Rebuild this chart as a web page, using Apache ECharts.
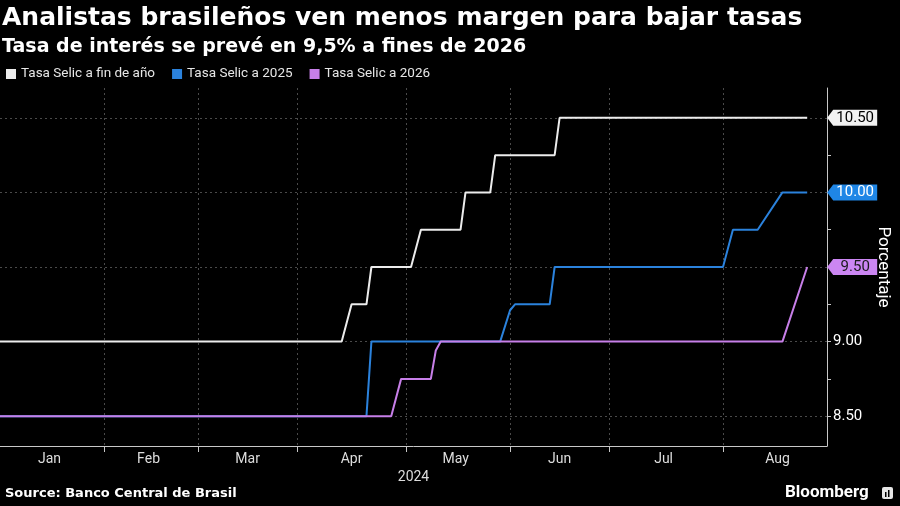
<!DOCTYPE html>
<html>
<head>
<meta charset="utf-8">
<script src="https://cdn.jsdelivr.net/npm/echarts@6/dist/echarts.min.js"></script>
<style>
  html, body { margin: 0; padding: 0; background: #000; }
  #main { width: 900px; height: 506px; }
</style>
</head>
<body>
<div id="main"></div>
<script>
// month names shown on the x axis
var months = ["Jan", "Feb", "Mar", "Apr", "May", "Jun", "Jul", "Aug"];
// brazilian market holidays (no survey values on those days)
var holidays = ["2024-01-01", "2024-02-12", "2024-02-13", "2024-03-29", "2024-05-01", "2024-05-30"];
var firstDay = "2024-01-03";
var lastDay = "2024-08-30";

// Selic end-of-year expectation, [fecha, %] at each change
var selicFinDeAno = [
  ["2024-01-03", 9.0], ["2024-04-12", 9.0], ["2024-04-16", 9.25], ["2024-04-19", 9.25],
  ["2024-04-22", 9.5], ["2024-05-03", 9.5], ["2024-05-07", 9.75], ["2024-05-17", 9.75],
  ["2024-05-20", 10.0], ["2024-05-27", 10.0], ["2024-05-28", 10.25], ["2024-06-14", 10.25],
  ["2024-06-17", 10.5], ["2024-08-26", 10.5]
];
var selic2025 = [
  ["2024-01-03", 8.5], ["2024-04-19", 8.5], ["2024-04-22", 9.0], ["2024-05-29", 9.0],
  ["2024-06-03", 9.21], ["2024-06-04", 9.25], ["2024-06-13", 9.25], ["2024-06-14", 9.5],
  ["2024-08-01", 9.5], ["2024-08-05", 9.75], ["2024-08-12", 9.75], ["2024-08-19", 10.0],
  ["2024-08-26", 10.0]
];
var selic2026 = [
  ["2024-01-03", 8.5], ["2024-04-26", 8.5], ["2024-04-30", 8.75], ["2024-05-09", 8.75],
  ["2024-05-10", 8.94], ["2024-05-13", 9.0], ["2024-08-19", 9.0], ["2024-08-26", 9.5]
];

var gridValues = [8.5, 9.0, 9.5, 10.0, 10.5];
var tickValues = [8.5, 8.75, 9.0, 9.25, 9.5, 9.75, 10.0, 10.25, 10.5];
var plainLabels = [8.5, 9.0];

function businessDays(from, to, skip) {
  var out = [];
  var d = new Date(from + "T00:00:00Z");
  var end = new Date(to + "T00:00:00Z");
  while (d <= end) {
    var wd = d.getUTCDay();
    var s = d.toISOString().slice(0, 10);
    if (wd !== 0 && wd !== 6 && skip.indexOf(s) < 0) out.push(s);
    d.setUTCDate(d.getUTCDate() + 1);
  }
  return out;
}

var days = businessDays(firstDay, lastDay, holidays);

// first business day of each month (tick + grid), and middle of each month (label)
var monthStart = {};
var starts = [0];
for (var i = 1; i < days.length; i++) {
  if (days[i].slice(5, 7) !== days[i - 1].slice(5, 7)) {
    monthStart[i] = true;
    starts.push(i);
  }
}
starts.push(days.length);
var monthMid = {};
for (var k = 0; k < starts.length - 1; k++) {
  monthMid[Math.floor((starts[k] + starts[k + 1]) / 2)] = true;
}

var gridLine = { color: "#4a4a4a", type: [2, 3], width: 1 };
var axisColor = "#c8c8c8";
var font = "Roboto, 'Liberation Sans', sans-serif";
var boldFont = "'DejaVu Sans', 'Open Sans', sans-serif";

function tag(data, bg, fg) {
  var last = data[data.length - 1];
  return {
    silent: true,
    symbol: "path://M0,8L6,0L50,0L50,16L6,16Z",
    symbolSize: [50, 16],
    symbolOffset: [45, 0],
    itemStyle: { color: bg },
    label: {
      show: true,
      position: "inside",
      offset: [3, 0],
      color: fg,
      fontSize: 15,
      fontFamily: font,
      formatter: function (p) { return p.value.toFixed(2); }
    },
    data: [{ coord: [last[0], last[1]], value: last[1] }]
  };
}

var chart = echarts.init(document.getElementById("main"));
var option = {
  backgroundColor: "#000",
  animation: false,
  title: {
    text: "Analistas brasileños ven menos margen para bajar tasas",
    subtext: "Tasa de interés se prevé en 9,5% a fines de 2026",
    left: 2,
    top: 6,
    padding: 0,
    itemGap: 7,
    textStyle: { color: "#fff", fontSize: 25, fontWeight: "bold", fontFamily: boldFont },
    subtextStyle: { color: "#fff", fontSize: 19, fontWeight: "bold", fontFamily: boldFont }
  },
  legend: {
    left: 6,
    top: 67,
    padding: 0,
    icon: "rect",
    itemWidth: 10,
    itemHeight: 10,
    itemGap: 17,
    textStyle: { color: "#e6e6e6", fontSize: 13.5, fontFamily: font },
    data: ["Tasa Selic a fin de año", "Tasa Selic a 2025", "Tasa Selic a 2026"]
  },
  grid: { left: 0, right: 73, top: 88, bottom: 60, outerBoundsMode: "none", containLabel: false },
  xAxis: {
    type: "category",
    data: days,
    boundaryGap: false,
    name: "2024",
    nameLocation: "middle",
    nameGap: 22,
    nameTextStyle: { color: "#ddd", fontSize: 14, fontFamily: font },
    axisLine: { lineStyle: { color: axisColor, width: 1 } },
    axisTick: {
      show: true,
      length: 6,
      lineStyle: { color: axisColor },
      interval: function (idx) { return !!monthStart[idx]; }
    },
    axisLabel: {
      color: "#ddd",
      fontSize: 14,
      fontFamily: font,
      margin: 6,
      interval: function (idx) { return !!monthMid[idx]; },
      formatter: function (v) { return months[parseInt(v.slice(5, 7), 10) - 1]; }
    },
    splitLine: {
      show: true,
      lineStyle: gridLine,
      interval: function (idx) { return !!monthStart[idx]; }
    }
  },
  yAxis: {
    type: "value",
    position: "right",
    min: 8.3,
    max: 10.7,
    name: "Porcentaje",
    nameLocation: "middle",
    nameRotate: -90,
    nameGap: 48,
    nameTextStyle: { color: "#fff", fontSize: 17, fontFamily: font },
    axisLine: { show: true, lineStyle: { color: axisColor, width: 1 } },
    axisTick: { show: true, length: 4, customValues: tickValues, lineStyle: { color: axisColor } },
    axisLabel: {
      color: "#fff",
      fontSize: 15,
      fontFamily: font,
      margin: 6,
      customValues: plainLabels,
      formatter: function (v) { return v.toFixed(2); }
    },
    splitLine: { show: false }
  },
  series: [
    {
      name: "Tasa Selic a fin de año",
      type: "line",
      data: selicFinDeAno,
      showSymbol: false,
      color: "#ececec",
      lineStyle: { width: 2 },
      markLine: {
        silent: true,
        symbol: "none",
        z: 1,
        label: { show: false },
        lineStyle: gridLine,
        emphasis: { disabled: true },
        data: gridValues.map(function (v) { return { yAxis: v }; })
      },
      markPoint: tag(selicFinDeAno, "#f2f2f2", "#000")
    },
    {
      name: "Tasa Selic a 2025",
      type: "line",
      data: selic2025,
      showSymbol: false,
      color: "#2b82dc",
      lineStyle: { width: 2 },
      markPoint: tag(selic2025, "#1f86e6", "#fff")
    },
    {
      name: "Tasa Selic a 2026",
      type: "line",
      data: selic2026,
      showSymbol: false,
      color: "#c77fe8",
      lineStyle: { width: 2 },
      markPoint: tag(selic2026, "#cb86f2", "#1a1a1a")
    }
  ],
  graphic: [
    {
      type: "text",
      left: 5,
      top: 487,
      style: { text: "Source: Banco Central de Brasil", fill: "#fff", font: "bold 13px " + boldFont }
    },
    {
      type: "text",
      left: 785,
      top: 484,
      style: { text: "Bloomberg", fill: "#fff", font: "bold 17px " + font }
    },
    {
      type: "rect",
      left: 882,
      top: 487,
      shape: { width: 11, height: 12, r: 2 },
      style: { fill: "#e6e6e6" }
    },
    {
      type: "rect",
      left: 885,
      top: 492,
      shape: { width: 1.5, height: 5 },
      style: { fill: "#000" }
    },
    {
      type: "rect",
      left: 888,
      top: 490,
      shape: { width: 1.5, height: 7 },
      style: { fill: "#000" }
    }
  ]
};
chart.setOption(option);
</script>
</body>
</html>
